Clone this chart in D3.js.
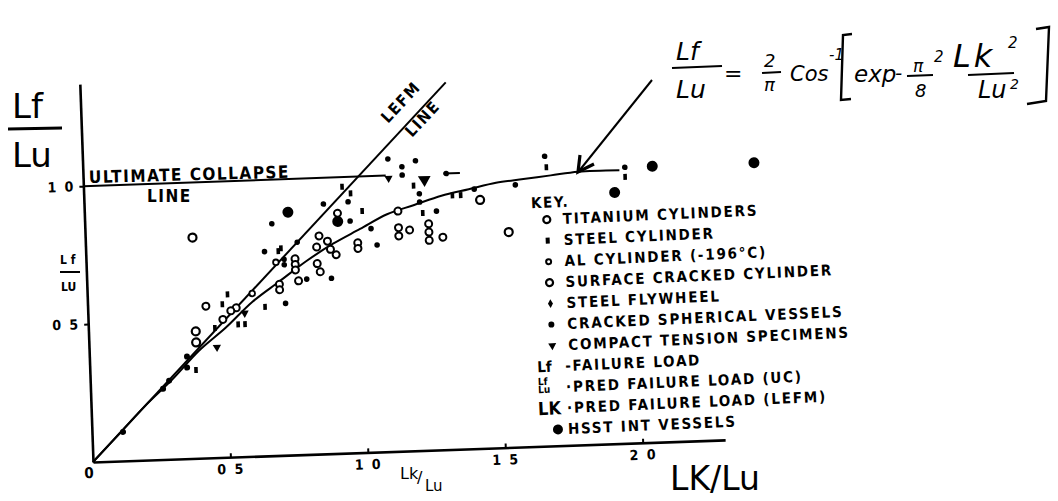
<!DOCTYPE html>
<html><head><meta charset="utf-8">
<script src="https://cdn.jsdelivr.net/npm/d3@7"></script>
<style>
body{margin:0;background:#fff;}
svg{display:block;}
.lbl{font-family:'DejaVu Sans Condensed','Liberation Sans Narrow','DejaVu Sans',sans-serif;font-weight:bold;fill:#000;}
.hand{font-family:'DejaVu Sans',sans-serif;fill:#000;}
</style></head><body>
<script>
// ---------- data ----------
const xTicks = [0.5, 1.0, 1.5, 2.0];
const xTickLabels = ["0 5", "1 0", "1 5", "2 0"];
const yTicks = [0.5, 1.0];
const yTickLabels = ["0 5", "1 0"];

// theoretical curve Lf/Lu vs Lk/Lu
const curveX = [0, 0.1, 0.2, 0.3, 0.4, 0.5, 0.6, 0.7, 0.8, 0.9, 1.0, 1.1, 1.2, 1.3, 1.4, 1.5, 1.6, 1.7, 1.8, 1.95];
const curveY = [0, 0.10, 0.20, 0.29, 0.39, 0.47, 0.56, 0.63, 0.70, 0.76, 0.81, 0.86, 0.89, 0.92, 0.94, 0.96, 0.97, 0.98, 0.99, 0.99];

const lefmLine = [[0, 0], [1.33, 1.33]];
const collapseLine = [[0, 1.0], [1.10, 1.0]];
const collapseDash = [[1.31, 1.0], [1.37, 1.0]];

const titanium = [[0.92,0.87],[0.99,0.76],[0.99,0.74],[1.14,0.87],[1.14,0.81],[1.14,0.78],[1.18,0.80],
  [1.25,0.82],[1.25,0.79],[1.25,0.76],[1.30,0.77],[0.85,0.79],[0.84,0.75],[0.88,0.77],[0.89,0.74],
  [0.91,0.72],[0.76,0.71],[0.76,0.69],[0.76,0.67],[0.77,0.63],[0.84,0.69],[0.85,0.66],[0.70,0.62],
  [0.70,0.60],[0.43,0.55],[0.54,0.54],[0.52,0.53],[0.49,0.50]];
const surfaceCracked = [[0.39,0.80],[1.44,0.90],[1.54,0.78],[0.39,0.46],[0.39,0.42]];
const alCylinder = [[0.60,0.59],[0.69,0.70]];
const steelCylinder = [[0.94,0.965],[0.97,0.94],[1.01,0.875],[1.34,0.92],[1.37,0.92],[0.51,0.59],
  [0.545,0.48],[0.57,0.48],[0.386,0.32],[0.46,0.47],[1.685,1.01],[1.97,0.965],[1.23,0.86],
  [0.70,0.74],[0.71,0.75],[0.645,0.54],[0.49,0.555],[1.20,0.96]];
const steelFlywheel = [[1.11,1.06],[1.16,1.03],[1.21,1.05],[1.16,1.00],[1.32,1.00],[1.68,1.05],
  [1.97,1.00],[1.57,0.95],[1.42,0.94],[1.22,0.90],[1.28,0.865],[0.96,0.91],[0.87,0.905],[0.965,0.84],
  [1.04,0.81],[1.06,0.75],[0.68,0.84],[0.65,0.74],[0.77,0.77],[0.80,0.635],[0.89,0.635],[0.72,0.71],
  [0.72,0.69],[0.72,0.55],[1.22,0.93]];
const crackedSpherical = [[0.355,0.37],[0.354,0.33],[0.287,0.285],[0.264,0.256],[0.113,0.105]];
const compactTension = [[0.465,0.40],[0.57,0.52],[1.11,0.99]];
const compactTensionBig = [[1.24,0.98]];
const hsst = [[0.74,0.88],[0.92,0.84],[1.93,0.91],[2.07,1.00],[2.44,1.00]];

const keyLabels = ["TITANIUM CYLINDERS","STEEL CYLINDER","AL CYLINDER (-196°C)","SURFACE CRACKED CYLINDER",
  "STEEL FLYWHEEL","CRACKED SPHERICAL VESSELS","COMPACT TENSION SPECIMENS","-FAILURE LOAD",
  "·PRED FAILURE LOAD (UC)","·PRED FAILURE LOAD (LEFM)","HSST INT VESSELS"];
const keySymbols = ["titanium","steelCylinder","al","surface","flywheel","spherical","tension","Lf","LfLu","LK","hsst"];

// ---------- drawing ----------
const W = 1058, H = 501;
const svg = d3.select("body").append("svg").attr("width", W).attr("height", H);

const x = d3.scaleLinear().domain([0, 2.3]).range([0, 2.3 * 275]);
const y = d3.scaleLinear().domain([0, 1.37]).range([0, -1.37 * 276]);

const g = svg.append("g").attr("transform", "translate(93,462) rotate(-2)");

// axes
const xAxis = d3.axisBottom(x).tickValues(xTicks).tickFormat((d, i) => xTickLabels[i])
  .tickSizeInner(-4).tickSizeOuter(0).tickPadding(7);
const yAxis = d3.axisLeft(y).tickValues(yTicks).tickFormat((d, i) => yTickLabels[i])
  .tickSizeInner(4).tickSizeOuter(0).tickPadding(4);

const gx = g.append("g").call(xAxis);
const gy = g.append("g").call(yAxis);
[gx, gy].forEach(a => {
  a.select(".domain").attr("stroke", "#000").attr("stroke-width", 2.6);
  a.selectAll(".tick line").attr("stroke", "#000").attr("stroke-width", 2);
  a.selectAll(".tick text").attr("class", "lbl").attr("font-size", 14)
    .attr("font-family", null).style("letter-spacing", "2px");
});
g.append("text").attr("class", "lbl").attr("x", -9).attr("y", 16).attr("font-size", 15).text("0");

// lines
const line = d3.line().x(d => x(d[0])).y(d => y(d[1]));
g.append("path").datum(lefmLine).attr("d", line).attr("fill", "none").attr("stroke", "#000").attr("stroke-width", 2);
g.append("path").datum(collapseLine).attr("d", line).attr("fill", "none").attr("stroke", "#000").attr("stroke-width", 2);
g.append("path").datum(collapseDash).attr("d", line).attr("fill", "none").attr("stroke", "#000").attr("stroke-width", 2);
const curvePts = curveX.map((v, i) => [v, curveY[i]]);
g.append("path").datum(curvePts).attr("d", line.curve(d3.curveCatmullRom))
  .attr("fill", "none").attr("stroke", "#000").attr("stroke-width", 2);

// markers
function drawCircles(data, r, fill, sw) {
  g.selectAll(null).data(data).enter().append("circle")
    .attr("cx", d => x(d[0])).attr("cy", d => y(d[1])).attr("r", r)
    .attr("fill", fill).attr("stroke", "#000").attr("stroke-width", sw);
}
function drawRects(data) {
  g.selectAll(null).data(data).enter().append("rect")
    .attr("x", d => x(d[0]) - 1.8).attr("y", d => y(d[1]) - 3).attr("width", 3.6).attr("height", 6).attr("fill", "#000");
}
function drawTri(data, size) {
  g.selectAll(null).data(data).enter().append("path")
    .attr("d", d3.symbol(d3.symbolTriangle, size))
    .attr("transform", d => `translate(${x(d[0])},${y(d[1])}) rotate(180)`).attr("fill", "#000");
}
drawCircles(titanium, 3.5, "#fff", 2);
drawCircles(surfaceCracked, 4, "#fff", 2.2);
drawCircles(alCylinder, 2.8, "#fff", 1.8);
drawRects(steelCylinder);
drawCircles(steelFlywheel, 2.8, "#000", 0);
drawCircles(crackedSpherical, 3, "#000", 0);
drawTri(compactTension, 30);
drawTri(compactTensionBig, 70);
drawCircles(hsst, 5.5, "#000", 0);

// line labels
svg.append("text").attr("class", "lbl").attr("x", 89).attr("y", 183).attr("font-size", 17)
  .attr("transform", "rotate(-1.5,89,183)").style("letter-spacing", "1.5px").text("ULTIMATE  COLLAPSE");
svg.append("text").attr("class", "lbl").attr("x", 147).attr("y", 202).attr("font-size", 17)
  .style("letter-spacing", "1.5px").text("LINE");
svg.append("text").attr("class", "lbl").attr("x", 388).attr("y", 124).attr("font-size", 16)
  .attr("transform", "rotate(-47,388,124)").style("letter-spacing", "1.5px").text("LEFM");
svg.append("text").attr("class", "lbl").attr("x", 412).attr("y", 138).attr("font-size", 16)
  .attr("transform", "rotate(-47,412,138)").style("letter-spacing", "1.5px").text("LINE");

// axis titles
const yt = svg.append("g");
yt.append("text").attr("class", "hand").attr("x", 12).attr("y", 118).attr("font-size", 34).text("Lf");
yt.append("line").attr("x1", 8).attr("x2", 62).attr("y1", 129).attr("y2", 128).attr("stroke", "#000").attr("stroke-width", 3);
yt.append("text").attr("class", "hand").attr("x", 12).attr("y", 167).attr("font-size", 34).text("Lu");

svg.append("text").attr("class", "lbl").attr("x", 60).attr("y", 264).attr("font-size", 12).text("L f");
svg.append("line").attr("x1", 60).attr("x2", 80).attr("y1", 272).attr("y2", 272).attr("stroke", "#000").attr("stroke-width", 2);
svg.append("text").attr("class", "lbl").attr("x", 61).attr("y", 291).attr("font-size", 12).text("LU");

svg.append("text").attr("class", "hand").attr("x", 400).attr("y", 479).attr("font-size", 16).text("Lk");
svg.append("text").attr("class", "hand").attr("x", 417).attr("y", 483).attr("font-size", 16).text("/");
svg.append("text").attr("class", "hand").attr("x", 425).attr("y", 491).attr("font-size", 15).text("Lu");

svg.append("text").attr("class", "hand").attr("x", 670).attr("y", 490).attr("font-size", 33).text("LK/Lu");

// formula
const f = svg.append("g");
const ft = (tx, ty, s, str) => f.append("text").attr("class", "hand").attr("x", tx).attr("y", ty)
  .attr("font-size", s).style("font-style", "italic").text(str);
const fl = (x1, y1, x2, y2, w) => f.append("line").attr("x1", x1).attr("y1", y1).attr("x2", x2).attr("y2", y2)
  .attr("stroke", "#000").attr("stroke-width", w || 2.2);
ft(676, 60, 25, "Lf"); fl(672, 68, 722, 66); ft(676, 98, 25, "Lu");
ft(724, 81, 22, "=");
ft(764, 67, 18, "2"); fl(762, 73, 781, 72, 1.8); ft(764, 91, 18, "π");
ft(790, 81, 21, "Cos"); ft(829, 60, 15, "-1");
f.append("path").attr("d", "M852,34 L843,35 L841,100 L851,99").attr("fill", "none").attr("stroke", "#000").attr("stroke-width", 2.4);
ft(854, 82, 23, "exp"); ft(895, 80, 20, "-");
ft(913, 72, 17, "π"); fl(907, 76, 933, 75, 1.8); ft(915, 97, 18, "8"); ft(934, 62, 15, "2");
ft(953, 67, 32, "Lk").style("letter-spacing", "3px"); ft(1008, 48, 15, "2"); fl(968, 75, 1014, 73, 2);
ft(978, 98, 24, "Lu"); ft(1010, 89, 14, "2");
f.append("path").attr("d", "M1036,29 L1049,27 L1046,101 L1027,104").attr("fill", "none").attr("stroke", "#000").attr("stroke-width", 2.4);

// arrow
svg.append("line").attr("x1", 652).attr("y1", 80).attr("x2", 579).attr("y2", 171).attr("stroke", "#000").attr("stroke-width", 2);
svg.append("path").attr("d", "M580,155 L578,172 L594,164").attr("fill", "none").attr("stroke", "#000").attr("stroke-width", 3.2);

// key
const key = svg.append("g").attr("transform", "rotate(-2.5,563,224)");
key.append("text").attr("class", "lbl").attr("x", 532).attr("y", 207).attr("font-size", 15).style("letter-spacing", "1.5px").text("KEY.");
const rowY = i => 224 + i * 21;
keyLabels.forEach((lab, i) => {
  const tx = i >= 7 ? 559 : 563;
  key.append("text").attr("class", "lbl").attr("x", tx).attr("y", rowY(i)).attr("font-size", 15)
    .style("letter-spacing", "1.8px").text(lab);
  const sx = 547, sy = rowY(i) - 5;
  const s = keySymbols[i];
  if (s === "titanium" || s === "surface") key.append("circle").attr("cx", sx).attr("cy", sy).attr("r", 3.5).attr("fill", "#fff").attr("stroke", "#000").attr("stroke-width", 2.2);
  else if (s === "al") key.append("circle").attr("cx", sx).attr("cy", sy).attr("r", 2.5).attr("fill", "#fff").attr("stroke", "#000").attr("stroke-width", 2);
  else if (s === "steelCylinder") key.append("rect").attr("x", sx - 2).attr("y", sy - 3).attr("width", 4).attr("height", 6).attr("fill", "#000");
  else if (s === "flywheel") key.append("path").attr("d", d3.symbol(d3.symbolDiamond, 22)).attr("transform", `translate(${sx},${sy})`).attr("fill", "#000");
  else if (s === "spherical") key.append("circle").attr("cx", sx).attr("cy", sy).attr("r", 3).attr("fill", "#000");
  else if (s === "tension") key.append("path").attr("d", d3.symbol(d3.symbolTriangle, 28)).attr("transform", `translate(${sx},${sy}) rotate(180)`).attr("fill", "#000");
  else if (s === "hsst") key.append("circle").attr("cx", sx + 2).attr("cy", sy).attr("r", 5).attr("fill", "#000");
  else if (s === "Lf") key.append("text").attr("class", "lbl").attr("x", 531).attr("y", rowY(i)).attr("font-size", 15).text("Lf");
  else if (s === "LfLu") {
    key.append("text").attr("class", "lbl").attr("x", 531).attr("y", rowY(i) - 8).attr("font-size", 10).text("Lf");
    key.append("text").attr("class", "lbl").attr("x", 531).attr("y", rowY(i)).attr("font-size", 10).text("Lu");
  }
  else if (s === "LK") key.append("text").attr("class", "lbl").attr("x", 530).attr("y", rowY(i) + 1).attr("font-size", 18).text("LK");
});
</script>
</body></html>
